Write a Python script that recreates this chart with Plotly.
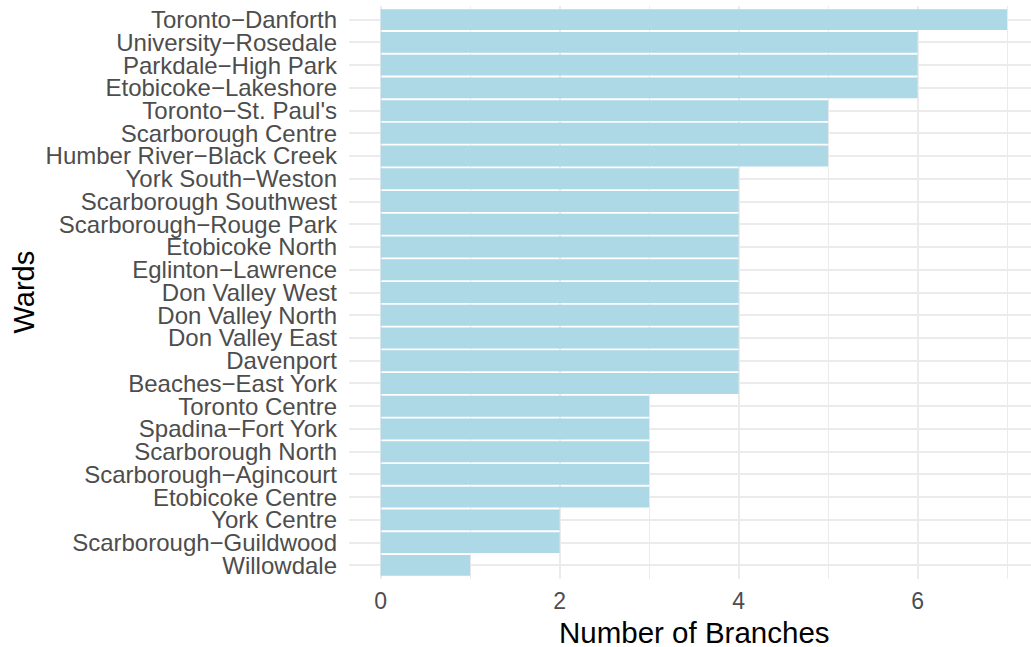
import plotly.graph_objects as go

wards = [
    "Toronto−Danforth", "University−Rosedale", "Parkdale−High Park", "Etobicoke−Lakeshore",
    "Toronto−St. Paul's", "Scarborough Centre", "Humber River−Black Creek", "York South−Weston",
    "Scarborough Southwest", "Scarborough−Rouge Park", "Etobicoke North", "Eglinton−Lawrence",
    "Don Valley West", "Don Valley North", "Don Valley East", "Davenport", "Beaches−East York",
    "Toronto Centre", "Spadina−Fort York", "Scarborough North", "Scarborough−Agincourt",
    "Etobicoke Centre", "York Centre", "Scarborough−Guildwood", "Willowdale",
]
branches = [7, 6, 6, 6, 5, 5, 5, 4, 4, 4, 4, 4, 4, 4, 4, 4, 4, 3, 3, 3, 3, 3, 2, 2, 1]
x_ticks = [0, 2, 4, 6]

FONT = "Liberation Sans, Arial, Helvetica, sans-serif"

fig = go.Figure(go.Bar(
    x=branches, y=wards, orientation="h",
    marker=dict(color="#ADD8E6", line=dict(width=0)),
    width=0.92,
))

fig.update_layout(
    width=1031, height=647,
    margin=dict(l=349, r=0, t=6, b=68),
    plot_bgcolor="white", paper_bgcolor="white",
    showlegend=False,
    font=dict(family=FONT),
    xaxis=dict(
        range=[-0.354, 7.268],
        automargin=False,
        tickvals=x_ticks, ticktext=[str(v) for v in x_ticks],
        showgrid=True, gridcolor="#EBEBEB", gridwidth=2,
        minor=dict(tickvals=[1, 3, 5, 7], showgrid=True, gridcolor="#EBEBEB", gridwidth=1),
        zeroline=False, showline=False, ticks="",
        tickfont=dict(size=23, color="#4D4D4D", family=FONT),
        ticklabelstandoff=6,
    ),
    yaxis=dict(
        type="category",
        automargin=False,
        range=[24.6, -0.6],
        tickmode="array", tickvals=wards, ticktext=wards,
        showgrid=True, gridcolor="#EBEBEB", gridwidth=2,
        zeroline=False, showline=False, ticks="",
        tickfont=dict(size=24, color="#4D4D4D", family=FONT),
        ticklabelstandoff=11,
    ),
    annotations=[
        dict(text="Number of Branches", xref="paper", yref="paper",
             x=(694 - 349) / 682, y=-(632 - 579) / 573, xanchor="center", yanchor="middle",
             showarrow=False, font=dict(size=29.5, color="black", family=FONT)),
        dict(text="Wards", xref="paper", yref="paper",
             x=-(349 - 23) / 682, y=0.5, xanchor="center", yanchor="middle", textangle=-90,
             showarrow=False, font=dict(size=29, color="black", family=FONT)),
    ],
)

fig.write_html(
    "out.html",
    config={"displayModeBar": False},
    post_script="document.body.style.margin='0';document.body.style.overflow='hidden';",
)
